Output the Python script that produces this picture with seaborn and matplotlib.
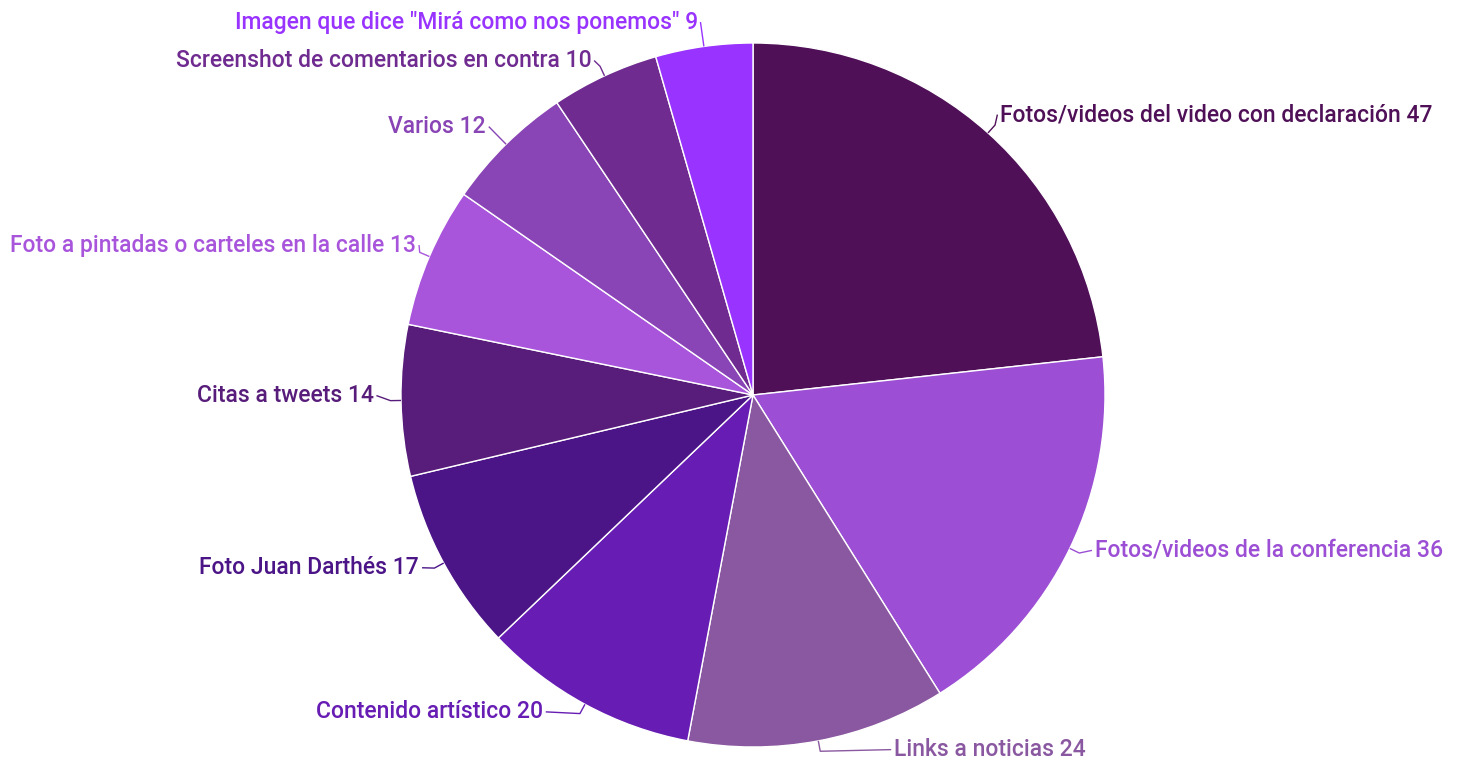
import matplotlib
matplotlib.use("Agg")
import matplotlib.pyplot as plt
import numpy as np
import seaborn as sns

categories = [
    "Fotos/videos del video con declaración",
    "Fotos/videos de la conferencia",
    "Links a noticias",
    "Contenido artístico",
    "Foto Juan Darthés",
    "Citas a tweets",
    "Foto a pintadas o carteles en la calle",
    "Varios",
    "Screenshot de comentarios en contra",
    'Imagen que dice "Mirá como nos ponemos"',
]
counts = [47, 36, 24, 20, 17, 14, 13, 12, 10, 9]
colors = [
    "#4f1058", "#9c4fd4", "#8a58a0", "#671db3", "#4b1587",
    "#581c7a", "#a855dc", "#8944b5", "#6f2b8f", "#9933ff",
]

# nudges (radius units) for labels that sit away from the plain mid-angle spot
label_nudge = {
    0: (-0.02, 0.0),
    1: (0.0, 0.025),
    2: (0.194, 0.044),
    3: (-0.078, 0.04),
    4: (0.0, 0.02),
    5: (0.0, 0.015),
    6: (0.035, 0.005),
    8: (0.0, -0.02),
}

sns.set_theme(style="white")
plt.rcParams["font.family"] = ["Roboto", "DejaVu Sans"]

W, H = 1461, 762
cx, cy, r = 753, 395, 352
fig = plt.figure(figsize=(W / 100, H / 100), dpi=100)
ax = fig.add_axes([(cx - r) / W, (H - cy - r) / H, 2 * r / W, 2 * r / H])

wedges, _ = ax.pie(
    counts,
    colors=colors,
    startangle=90,
    counterclock=False,
    radius=1.0,
    wedgeprops=dict(edgecolor="white", linewidth=1.0),
)
ax.set_xlim(-1, 1)
ax.set_ylim(-1, 1)
ax.set_aspect("equal")
ax.axis("off")

for i, w in enumerate(wedges):
    mid = np.deg2rad((w.theta1 + w.theta2) / 2)
    dx, dy = np.cos(mid), np.sin(mid)
    nx, ny = label_nudge.get(i, (0, 0))
    lx, ly = 1.07 * dx + nx, 1.07 * dy + ny
    ex, ey = 1.03 * dx, 1.03 * dy
    side = "left" if dx > 0 else "right"
    tx = lx + (0.008 if dx > 0 else -0.008)
    ax.plot([dx, ex, lx], [dy, ey, ly], color=colors[i], lw=1.0,
            clip_on=False, solid_capstyle="butt")
    ax.text(tx, ly, f"{categories[i]} {counts[i]}", color=colors[i],
            ha=side, va="center", fontsize=16.5, fontweight="medium",
            clip_on=False)

fig.savefig("out.png", dpi=100, facecolor="white")
